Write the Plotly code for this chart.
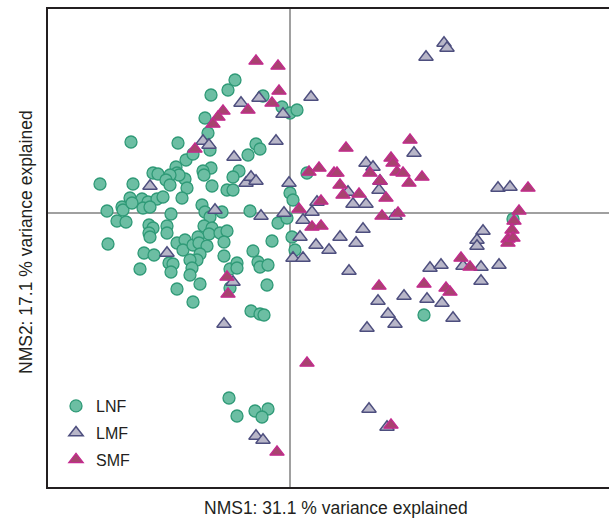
import plotly.graph_objects as go

# NMS ordination scores
lnf_x = [-0.55, -0.62, -0.79, -0.27, -0.85, -0.82, -0.08, 0.00, 0.07, -1.59, -1.12, -0.80, -0.34, -0.30,
         -0.42, -1.04, -0.97, -0.79, -0.87, -0.86, -0.51, -0.57, -1.37, -1.32, -1.14, -1.13, -1.05, -1.11,
         -1.20, -1.24, -1.20, -1.90, -1.57, -0.78, -0.63, -0.57, -1.03, -1.08, 0.00, 0.03, -1.60, -1.48,
         -1.42, -1.33, -1.27, -1.68, -1.67, -1.58, -1.47, -1.40, -1.83, -1.73, -1.64, -1.19, -0.88, -0.85,
         -0.80, -0.68, -0.40, -0.12, -0.03, -1.41, -1.37, -1.23, -1.23, -1.41, -1.40, -0.86, -0.78, -0.81,
         -0.70, -0.63, -0.66, -1.13, -1.05, -1.07, -0.97, -0.92, -0.91, -0.83, -0.90, -0.93, -1.00, -0.98,
         -1.00, -0.18, 0.02, 0.05, -1.82, -1.46, -1.36, -1.21, -1.17, -1.19, -1.50, -0.90, -0.66, -0.60,
         -0.53, -0.53, -0.37, -0.32, -0.30, -0.22, -0.23, -1.13, -0.60, -0.97, -0.39, -0.30, -0.26, 0.17,
         1.34, 2.23, -0.61, -0.53, -0.35, -0.22, -0.28]
lnf_y = [1.33, 1.23, 1.18, 1.17, 0.95, 0.80, 1.06, 1.00, 1.03, 0.71, 0.70, 0.63, 0.69, 0.64,
         0.58, 0.53, 0.59, 0.45, 0.42, 0.38, 0.42, 0.36, 0.40, 0.39, 0.46, 0.40, 0.34, 0.38,
         0.38, 0.33, 0.28, 0.29, 0.29, 0.27, 0.23, 0.23, 0.25, 0.15, 0.20, 0.13, 0.15, 0.14,
         0.11, 0.14, 0.16, 0.06, 0.03, 0.10, 0.05, 0.06, 0.02, -0.08, -0.09, -0.01, 0.08, 0.01,
         -0.04, 0.01, 0.02, -0.10, -0.05, -0.12, -0.15, -0.13, -0.20, -0.20, -0.24, -0.13, -0.15, -0.21,
         -0.20, -0.18, -0.29, -0.30, -0.27, -0.37, -0.32, -0.24, -0.30, -0.33, -0.41, -0.47, -0.47, -0.55,
         -0.62, -0.28, -0.24, -0.37, -0.31, -0.40, -0.42, -0.50, -0.51, -0.59, -0.56, -0.71, -0.43, -0.56,
         -0.50, -0.55, -0.38, -0.49, -0.54, -0.52, -0.72, -0.76, -0.75, -0.89, -0.98, -1.01, -1.02, 0.40,
         -1.02, -0.06, -1.85, -2.03, -1.98, -1.96, -2.04]

lmf_x = [1.54, 1.57, 1.36, 0.21, -0.07, -0.49, -0.31, -0.87, -0.81, -0.14, -0.56, -0.44, -0.39, -0.34,
         -0.01, -1.40, 1.24, 0.76, 0.83, 0.90, 0.89, 0.58, 0.63, 0.76, 0.27, 0.22, -0.06, 0.13, 0.10,
         1.05, 0.26, 0.39, 0.50, 0.66, 0.73, 0.03, 0.13, 0.59, 2.08, 2.20, 1.93, 1.87, 1.87, 1.40, 1.51,
         1.73, 1.91, 2.09, 1.91, 0.88, 1.14, 1.37, 1.52, 0.98, 1.05, 0.77, 1.63, -0.75, -0.29, -1.23,
         -0.57, -0.66, -0.34, -0.27, 0.79, 0.97]
lmf_y = [1.70, 1.65, 1.56, 1.16, 0.99, 1.10, 1.15, 0.72, 0.68, 0.72, 0.56, 0.30, 0.36, 0.32,
         0.30, 0.27, 0.60, 0.50, 0.46, 0.32, 0.23, 0.21, 0.09, 0.09, 0.11, 0.01, 0.00, -0.07, -0.24,
         -0.03, -0.32, -0.37, -0.24, -0.30, -0.16, -0.45, -0.45, -0.58, 0.25, 0.26, -0.18, -0.27, -0.33, -0.55, -0.52,
         -0.53, -0.54, -0.52, -0.68, -0.88, -0.83, -0.86, -0.90, -1.01, -1.11, -1.15, -1.05, 0.03, -0.03, -0.40,
         -0.69, -1.11, -2.23, -2.27, -1.96, -2.14]

smf_x = [-0.34, -0.12, -0.11, -0.18, -0.42, -0.67, -0.72, -0.77, -0.95, -0.63, -0.62, 0.56, 1.20, 1.01,
         1.03, 0.29, 0.19, 0.44, 0.47, 0.80, 1.07, 1.13, 1.32, 0.90, 0.50, 1.19, 0.69, 0.53, 0.96, 0.31,
         0.09, 0.92, 1.08, 0.22, 0.31, 2.38, 2.29, 2.24, 2.22, 2.18, 2.18, 2.23, 1.71, 1.80, 0.89, 1.34,
         1.56, 1.60, 0.17, -0.13, 1.01]
smf_y = [1.52, 1.47, 1.22, 1.10, 1.03, 1.02, 0.96, 0.89, 0.64, -0.64, -0.81, 0.65, 0.73, 0.55,
         0.50, 0.45, 0.41, 0.40, 0.40, 0.40, 0.41, 0.40, 0.36, 0.32, 0.28, 0.30, 0.19, 0.18, 0.15, 0.12,
         0.04, -0.03, 0.00, -0.14, -0.13, 0.25, 0.02, -0.08, -0.17, -0.26, -0.30, -0.25, -0.45, -0.54, -0.73, -0.71,
         -0.75, -0.79, -1.50, -2.39, -2.12]

groups = ["LNF", "LMF", "SMF"]
x_title = "NMS1: 31.1 % variance explained"
y_title = "NMS2: 17.1 % variance explained"

styles = {
    "LNF": dict(symbol="circle", size=12, color="#6cbea3", line=dict(color="#2f9a77", width=1.3)),
    "LMF": dict(symbol="triangle-up", size=12.5, color="#b8b6c8", line=dict(color="#4d4e7e", width=1.5)),
    "SMF": dict(symbol="triangle-up", size=12.5, color="#a8436f", line=dict(color="#c42a8f", width=1.3)),
}
data = {"LNF": (lnf_x, lnf_y), "LMF": (lmf_x, lmf_y), "SMF": (smf_x, smf_y)}

fig = go.Figure()
for g in groups:
    xs, ys = data[g]
    fig.add_trace(go.Scatter(x=xs, y=ys, mode="markers", name=g, legendgroup=g,
                             marker=styles[g]))

font = "Arial, Liberation Sans, sans-serif"
L, R, T, B, W, H = 48, 0, 9, 34, 609, 521
pw, ph = W - L - R, H - T - B


def px_x(p):
    return (p - L) / pw


def px_y(p):
    return (H - B - p) / ph


fig.update_layout(
    width=W, height=H,
    margin=dict(l=L, r=R, t=T, b=B),
    paper_bgcolor="white", plot_bgcolor="white",
    font=dict(family=font, size=16, color="#231f20"),
    showlegend=True,
    legend=dict(x=px_x(56), y=px_y(477), xanchor="left", yanchor="bottom",
                bgcolor="rgba(0,0,0,0)", itemwidth=30, traceorder="grouped",
                tracegroupgap=3, font=dict(size=16, color="#231f20")),
    xaxis=dict(range=[-2.42, 3.19], showgrid=False, showticklabels=False, ticks="",
               zeroline=True, zerolinecolor="#a0a0a0", zerolinewidth=1.5,
               showline=True, linecolor="#231f20", linewidth=1.5, mirror=True),
    yaxis=dict(range=[-2.74, 2.04], showgrid=False, showticklabels=False, ticks="",
               zeroline=True, zerolinecolor="#a0a0a0", zerolinewidth=1.5,
               showline=True, linecolor="#231f20", linewidth=1.5, mirror=False),
    annotations=[
        dict(text=x_title, x=px_x(336), y=px_y(508), xref="paper", yref="paper",
             xanchor="center", yanchor="middle", showarrow=False, font=dict(size=17.5)),
        dict(text=y_title, x=px_x(26), y=px_y(242), xref="paper", yref="paper",
             xanchor="center", yanchor="middle", showarrow=False, textangle=-90,
             font=dict(size=17.5)),
    ],
)

fig.write_html("out.html")
